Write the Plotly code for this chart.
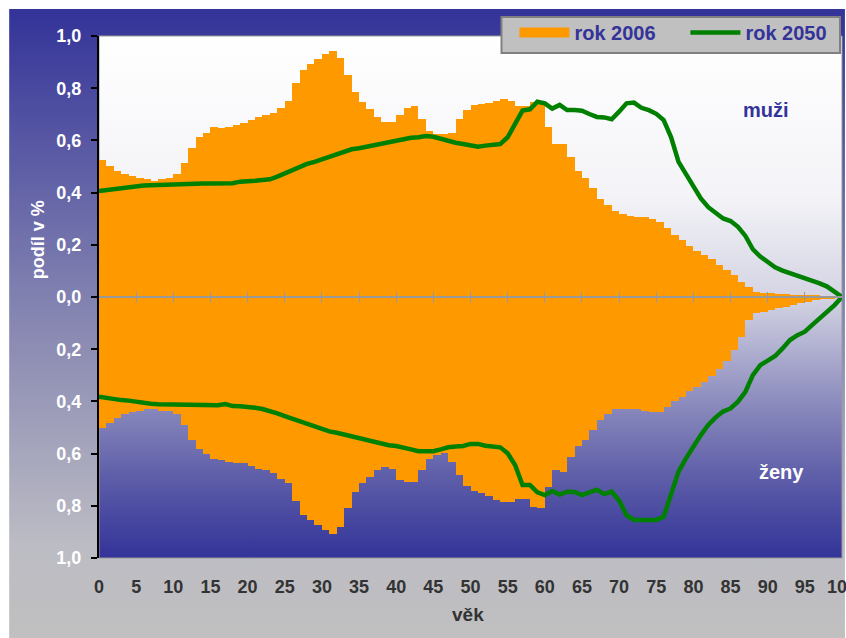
import base64
import plotly.graph_objects as go

# ---------------- data ----------------
ages = list(range(0, 101))
bar_ages = list(range(0, 100))

men_2006 = [0.525, 0.503, 0.484, 0.471, 0.464, 0.457, 0.451, 0.444, 0.451, 0.455,
            0.471, 0.512, 0.570, 0.612, 0.630, 0.650, 0.646, 0.653, 0.659, 0.665,
            0.678, 0.691, 0.697, 0.704, 0.723, 0.751, 0.819, 0.870, 0.891, 0.910,
            0.931, 0.944, 0.917, 0.851, 0.784, 0.748, 0.719, 0.691, 0.672, 0.669,
            0.697, 0.723, 0.732, 0.681, 0.637, 0.625, 0.625, 0.630, 0.681, 0.716,
            0.736, 0.739, 0.745, 0.752, 0.757, 0.752, 0.732, 0.730, 0.748, 0.752,
            0.650, 0.586, 0.586, 0.538, 0.484, 0.455, 0.416, 0.375, 0.352, 0.331,
            0.318, 0.310, 0.305, 0.305, 0.299, 0.286, 0.263, 0.238, 0.217, 0.195,
            0.177, 0.161, 0.144, 0.123, 0.103, 0.084, 0.059, 0.040, 0.020, 0.017,
            0.015, 0.013, 0.010, 0.008, 0.007, 0.005, 0.004, 0.003, 0.002, 0.001]

women_2006 = [0.501, 0.484, 0.462, 0.450, 0.442, 0.436, 0.429, 0.429, 0.436, 0.438,
              0.450, 0.490, 0.548, 0.584, 0.603, 0.622, 0.625, 0.631, 0.635, 0.635,
              0.648, 0.660, 0.663, 0.676, 0.699, 0.714, 0.780, 0.835, 0.854, 0.874,
              0.893, 0.908, 0.882, 0.810, 0.748, 0.714, 0.691, 0.663, 0.650, 0.659,
              0.701, 0.708, 0.708, 0.663, 0.622, 0.605, 0.599, 0.631, 0.682, 0.724,
              0.742, 0.752, 0.762, 0.778, 0.787, 0.787, 0.775, 0.775, 0.803, 0.810,
              0.727, 0.663, 0.669, 0.612, 0.570, 0.548, 0.510, 0.471, 0.448, 0.430,
              0.430, 0.430, 0.430, 0.438, 0.442, 0.442, 0.423, 0.398, 0.383, 0.360,
              0.344, 0.324, 0.303, 0.277, 0.244, 0.203, 0.152, 0.088, 0.060, 0.056,
              0.050, 0.043, 0.037, 0.031, 0.024, 0.018, 0.011, 0.007, 0.004, 0.002]

men_2050 = [0.406, 0.410, 0.413, 0.417, 0.420, 0.424, 0.427, 0.428, 0.429, 0.432,
            0.435, 0.435, 0.435, 0.435, 0.435, 0.435, 0.435, 0.435, 0.436, 0.442,
            0.442, 0.445, 0.448, 0.451, 0.461, 0.474, 0.487, 0.499, 0.510, 0.518,
            0.527, 0.538, 0.544, 0.557, 0.566, 0.570, 0.576, 0.582, 0.588, 0.594,
            0.597, 0.604, 0.610, 0.612, 0.617, 0.614, 0.606, 0.597, 0.591, 0.586,
            0.579, 0.576, 0.580, 0.581, 0.586, 0.612, 0.659, 0.714, 0.719, 0.748,
            0.742, 0.722, 0.736, 0.716, 0.716, 0.714, 0.701, 0.690, 0.688, 0.681,
            0.710, 0.742, 0.745, 0.725, 0.716, 0.702, 0.678, 0.612, 0.518, 0.474,
            0.423, 0.378, 0.344, 0.321, 0.301, 0.291, 0.269, 0.234, 0.183, 0.155,
            0.132, 0.114, 0.101, 0.091, 0.082, 0.074, 0.065, 0.052, 0.040, 0.020,
            0.0]

women_2050 = [0.382, 0.387, 0.392, 0.395, 0.397, 0.402, 0.407, 0.409, 0.411, 0.411,
              0.411, 0.411, 0.411, 0.411, 0.412, 0.413, 0.415, 0.410, 0.418, 0.419,
              0.420, 0.424, 0.429, 0.436, 0.446, 0.456, 0.466, 0.476, 0.487, 0.497,
              0.504, 0.515, 0.520, 0.527, 0.535, 0.543, 0.550, 0.558, 0.563, 0.568,
              0.571, 0.576, 0.584, 0.591, 0.591, 0.591, 0.584, 0.576, 0.573, 0.571,
              0.563, 0.563, 0.570, 0.573, 0.576, 0.599, 0.644, 0.720, 0.720, 0.748,
              0.759, 0.743, 0.757, 0.746, 0.747, 0.759, 0.750, 0.738, 0.755, 0.746,
              0.780, 0.836, 0.854, 0.854, 0.854, 0.854, 0.842, 0.752, 0.669, 0.618,
              0.571, 0.529, 0.490, 0.461, 0.439, 0.427, 0.401, 0.363, 0.299, 0.261,
              0.244, 0.226, 0.197, 0.165, 0.146, 0.133, 0.107, 0.082, 0.060, 0.031,
              0.0]

ytick_vals = [-1.0, -0.8, -0.6, -0.4, -0.2, 0.0, 0.2, 0.4, 0.6, 0.8, 1.0]
ytick_text = ["1,0", "0,8", "0,6", "0,4", "0,2", "0,0", "0,2", "0,4", "0,6", "0,8", "1,0"]
xtick_vals = list(range(0, 101, 5))

ORANGE = "#ff9900"
GREEN = "#008000"
NAVY = "#333399"
FONT = "Liberation Sans"


def gradient_svg(stops, stroke=None):
    st = "".join(f'<stop offset="{o}" stop-color="{c}"/>' for o, c in stops)
    border = f' stroke="{stroke}" stroke-width="1"' if stroke else ""
    svg = ('<svg xmlns="http://www.w3.org/2000/svg" width="200" height="200" '
           'preserveAspectRatio="none" viewBox="0 0 200 200">'
           f'<defs><linearGradient id="g" x1="0" y1="0" x2="0" y2="1">{st}</linearGradient></defs>'
           f'<rect x="0" y="0" width="200" height="200" fill="url(#g)"{border}/></svg>')
    return "data:image/svg+xml;base64," + base64.b64encode(svg.encode()).decode()


frame_src = gradient_svg([(0, "#333399"), (0.45, "#8080b0"), (0.85, "#bcbcc4"), (1, "#c0c0c0")])
plot_src = gradient_svg([(0, "#ffffff"), (0.3, "#f4f4f8"), (0.5, "#d4d4e4"),
                         (0.7, "#8c8cbe"), (0.85, "#5c5ca8"), (1, "#333399")])

fig = go.Figure()

fig.add_trace(go.Bar(x=bar_ages, y=men_2006, offset=0, width=1, marker_color=ORANGE,
                     marker_line_width=0, showlegend=False))
fig.add_trace(go.Bar(x=bar_ages, y=[-v for v in women_2006], offset=0, width=1,
                     marker_color=ORANGE, marker_line_width=0, showlegend=False))
fig.add_trace(go.Scatter(x=ages, y=men_2050, mode="lines",
                         line=dict(color=GREEN, width=4.5), showlegend=False))
fig.add_trace(go.Scatter(x=ages, y=[-v for v in women_2050], mode="lines",
                         line=dict(color=GREEN, width=4.5), showlegend=False))
# legend entries
fig.add_trace(go.Scatter(x=[None], y=[None], mode="lines", name="rok 2006",
                         line=dict(color=ORANGE, width=12)))
fig.add_trace(go.Scatter(x=[None], y=[None], mode="lines", name="rok 2050",
                         line=dict(color=GREEN, width=4.5)))

axis_common = dict(range=[0, 100], showgrid=False, zeroline=False, automargin=False)
txt = dict(showarrow=False, xref="paper", yref="paper", xanchor="center", yanchor="middle")

fig.update_layout(
    width=846, height=638,
    margin=dict(l=99, r=4, t=36, b=80, autoexpand=False),
    paper_bgcolor="white",
    plot_bgcolor="rgba(0,0,0,0)",
    barmode="relative",
    bargap=0,
    xaxis=dict(**axis_common, tickvals=xtick_vals, ticks="", showline=False,
               ticklabelstandoff=16, ticklabeloverflow="allow",
               tickfont=dict(family=FONT, size=18, color="#333333", weight="bold")),
    xaxis2=dict(**axis_common, overlaying="x", anchor="free", position=0.5,
                showline=True, linecolor="#999999", linewidth=2, ticks="outside",
                ticklen=5, tickcolor="#999999", tickwidth=1,
                tickvals=list(range(5, 100, 5)), showticklabels=False, layer="above traces"),
    xaxis3=dict(**axis_common, overlaying="x", anchor="free", position=0.5,
                showline=False, ticks="inside",
                ticklen=5, tickcolor="#999999", tickwidth=1,
                tickvals=list(range(5, 100, 5)), showticklabels=False, layer="above traces"),
    yaxis=dict(range=[-1, 1], tickvals=ytick_vals, ticktext=ytick_text, automargin=False,
               showgrid=False, zeroline=False, showline=True, linecolor="black",
               linewidth=2, ticks="outside", ticklen=6, tickcolor="black", tickwidth=2,
               ticklabelstandoff=6,
               tickfont=dict(family=FONT, size=18, color="white", weight="bold")),
    legend=dict(orientation="h", x=0.5591, y=1.044, xanchor="left", yanchor="top",
                bgcolor="rgba(0,0,0,0)", borderwidth=0,
                itemwidth=50, entrywidth=106,
                font=dict(family=FONT, size=20, color=NAVY, weight="bold")),
    images=[
        dict(source=frame_src, xref="paper", yref="paper", x=-0.121, y=1.0517,
             sizex=1.125, sizey=1.21, sizing="stretch", layer="below"),
        dict(source=plot_src, xref="paper", yref="paper", x=0, y=1,
             sizex=1, sizey=1, sizing="stretch", layer="below"),
    ],
    annotations=[
        dict(text="muži", x=0.898, y=0.858, **txt,
             font=dict(family=FONT, size=20, color=NAVY, weight="bold")),
        dict(text="ženy", x=0.918, y=0.165, **txt,
             font=dict(family=FONT, size=20, color="white", weight="bold")),
        dict(text="podíl v %", x=-0.082, y=0.609, textangle=-90, **txt,
             font=dict(family=FONT, size=18, color="white", weight="bold")),
        dict(text="věk", x=0.497, y=-0.109, **txt,
             font=dict(family=FONT, size=19, color="#333333", weight="bold")),
    ],
    shapes=[
        dict(type="rect", xref="paper", yref="paper", x0=0, x1=1, y0=0, y1=1,
             line=dict(color="#999999", width=1), layer="below"),
        # legend box
        dict(type="rect", xref="paper", yref="paper", x0=0.5417, x1=0.9973,
             y0=0.9674, y1=1.0364, fillcolor="#c0c0c0",
             line=dict(color="#808080", width=2), layer="above"),
    ],
)

# invisible traces to activate overlay axes
fig.add_trace(go.Scatter(x=[None], y=[None], xaxis="x2", showlegend=False))
fig.add_trace(go.Scatter(x=[None], y=[None], xaxis="x3", showlegend=False))

fig.write_html("out.html", config={"displayModeBar": False},
               post_script="document.body.style.margin='0';document.body.style.overflow='hidden';")
